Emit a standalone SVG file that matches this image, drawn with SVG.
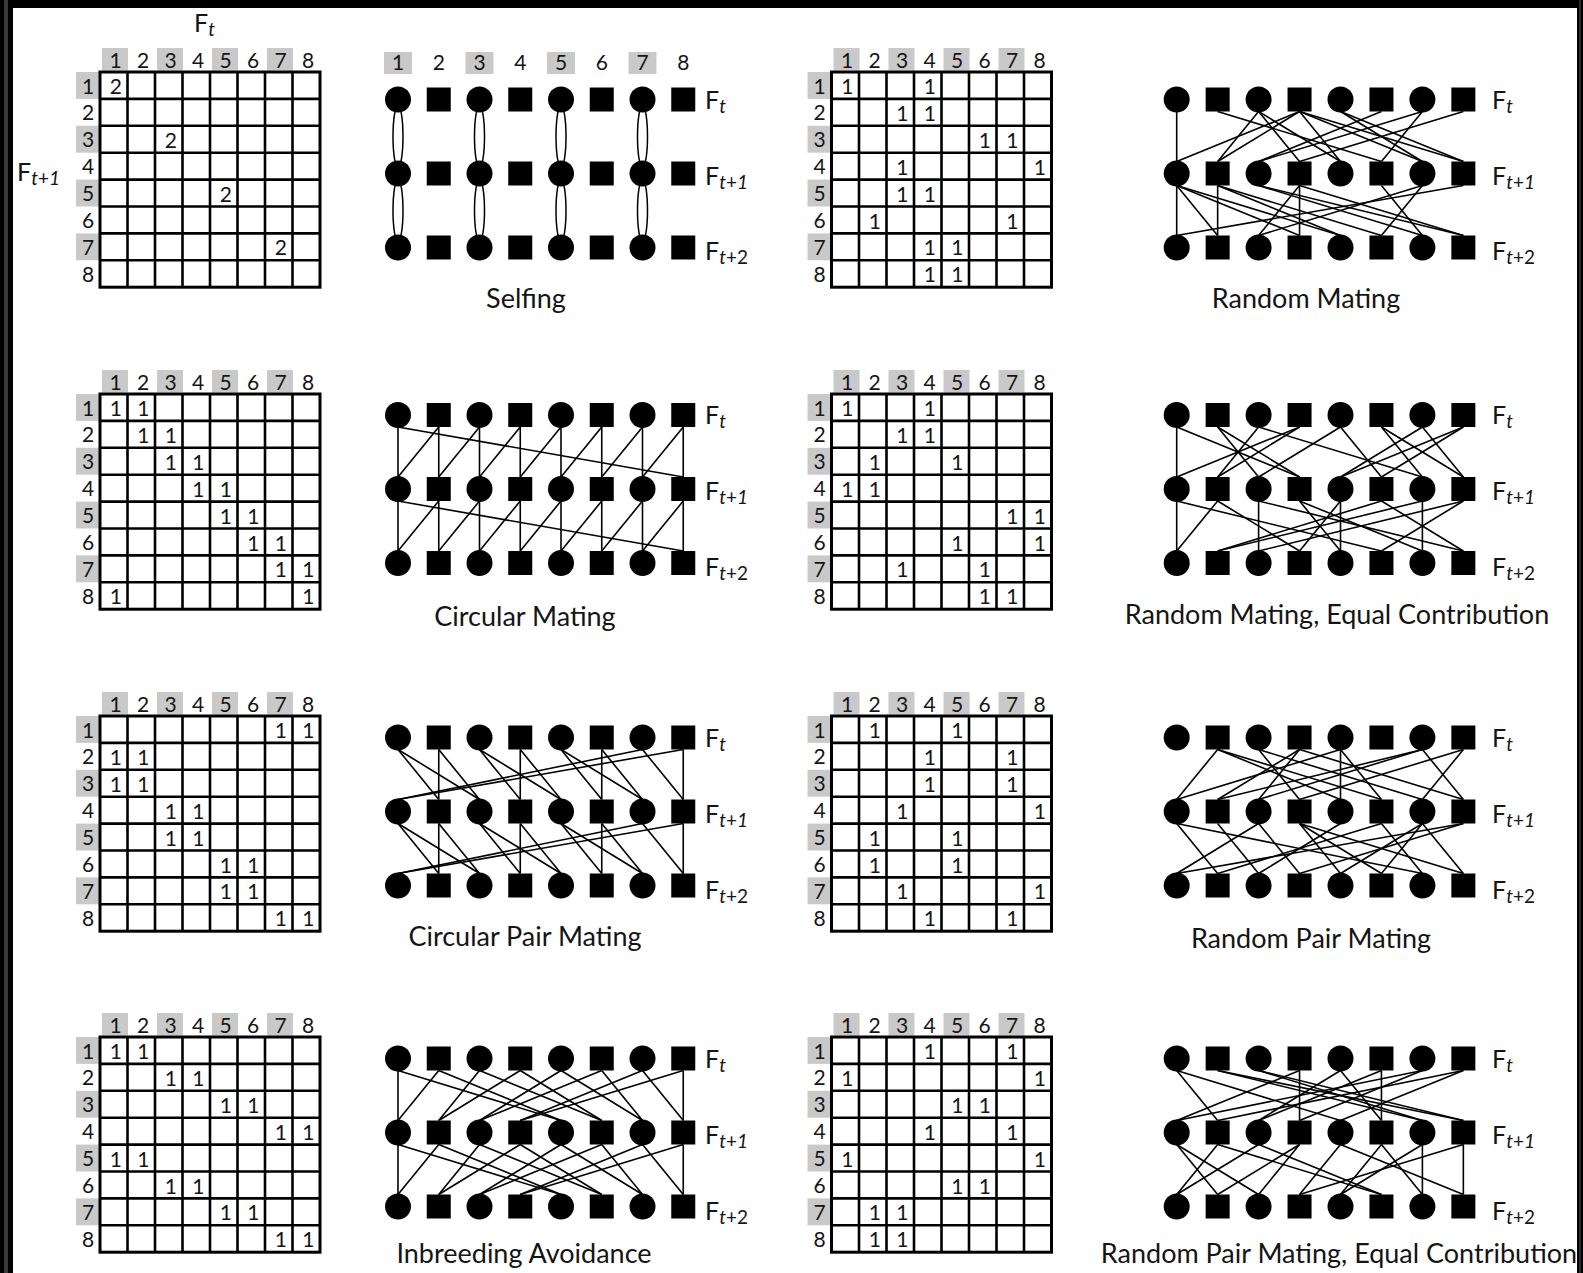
<svg xmlns="http://www.w3.org/2000/svg" xmlns:xlink="http://www.w3.org/1999/xlink" width="1583" height="1273" viewBox="0 0 1583 1273">
<style>
text{font-family:Lato,"Open Sans","Liberation Sans",sans-serif;fill:#151515}
.hd text{font-size:21px;text-anchor:middle}
.v text{font-size:21px;text-anchor:middle}
.ttl{font-size:27px;text-anchor:middle}
.lb{font-size:25px}
.sub{font-size:19px}
.it{font-style:italic}
.gb{fill:#c9c9c9}
.e line{stroke:#000;stroke-width:1.6}
.e ellipse{fill:none;stroke:#000;stroke-width:1.5}
circle{fill:#000}
.nd rect{fill:#000}
</style>
<defs>
<g id="mgrid">
<rect x="0" y="0" width="220" height="215.2" fill="#fff" stroke="#000" stroke-width="3"/>
<path d="M27.5 0V215.2M55 0V215.2M82.5 0V215.2M110 0V215.2M137.5 0V215.2M165 0V215.2M192.5 0V215.2M0 26.9H220M0 53.8H220M0 80.7H220M0 107.6H220M0 134.5H220M0 161.4H220M0 188.3H220" stroke="#000" stroke-width="2.6" fill="none"/>
</g>
<g id="mhead" class="hd">
<rect class="gb" x="2" y="-24" width="26" height="22.5"/><rect class="gb" x="57" y="-24" width="26" height="22.5"/><rect class="gb" x="112" y="-24" width="26" height="22.5"/><rect class="gb" x="167" y="-24" width="26" height="22.5"/>
<rect class="gb" x="-24" y="0" width="24" height="26.9"/><rect class="gb" x="-24" y="53.8" width="24" height="26.9"/><rect class="gb" x="-24" y="107.6" width="24" height="26.9"/><rect class="gb" x="-24" y="161.4" width="24" height="26.9"/>
<text x="15.5" y="-4.5">1</text><text x="43" y="-4.5">2</text><text x="70.5" y="-4.5">3</text><text x="98" y="-4.5">4</text><text x="125.5" y="-4.5">5</text><text x="153" y="-4.5">6</text><text x="180.5" y="-4.5">7</text><text x="208" y="-4.5">8</text>
<text x="-12" y="21.5">1</text><text x="-12" y="48.4">2</text><text x="-12" y="75.3">3</text><text x="-12" y="102.2">4</text><text x="-12" y="129.1">5</text><text x="-12" y="156">6</text><text x="-12" y="182.9">7</text><text x="-12" y="209.8">8</text>
</g>
</defs>
<rect width="1583" height="1273" fill="#000"/>
<rect x="4" y="0" width="4" height="1273" fill="#3a3a3a"/>
<rect x="1579" y="0" width="2" height="1273" fill="#2a2a2a"/>
<rect x="13" y="8" width="1564" height="1265" fill="#fff"/>

<text class="lb" x="194" y="32">F<tspan class="sub it" dy="4">t</tspan></text>
<text class="lb" x="17" y="181">F<tspan class="sub" dy="4"><tspan class="it">t</tspan>+<tspan class="it">1</tspan></tspan></text>

<!-- Row 1 matrices -->
<g id="m-selfing" transform="translate(100,72)"><use xlink:href="#mhead" href="#mhead"/><use xlink:href="#mgrid" href="#mgrid"/>
<g class="v" transform="translate(0,1.5)"><text x="15.75" y="20.5">2</text><text x="70.75" y="74.3">2</text><text x="125.75" y="128.1">2</text><text x="180.75" y="181.9">2</text></g></g>
<g id="m-random" transform="translate(831.5,72)"><use xlink:href="#mhead" href="#mhead"/><use xlink:href="#mgrid" href="#mgrid"/>
<g class="v" transform="translate(0,1.5)"><text x="15.75" y="20.5">1</text><text x="98.25" y="20.5">1</text><text x="70.75" y="47.4">1</text><text x="98.25" y="47.4">1</text><text x="153.25" y="74.3">1</text><text x="180.75" y="74.3">1</text><text x="70.75" y="101.2">1</text><text x="208.25" y="101.2">1</text><text x="70.75" y="128.1">1</text><text x="98.25" y="128.1">1</text><text x="43.25" y="155">1</text><text x="180.75" y="155">1</text><text x="98.25" y="181.9">1</text><text x="125.75" y="181.9">1</text><text x="98.25" y="208.8">1</text><text x="125.75" y="208.8">1</text></g></g>

<!-- Row 2 matrices -->
<g id="m-circular" transform="translate(100,394)"><use xlink:href="#mhead" href="#mhead"/><use xlink:href="#mgrid" href="#mgrid"/>
<g class="v" transform="translate(0,1.5)"><text x="15.75" y="20.5">1</text><text x="43.25" y="20.5">1</text><text x="43.25" y="47.4">1</text><text x="70.75" y="47.4">1</text><text x="70.75" y="74.3">1</text><text x="98.25" y="74.3">1</text><text x="98.25" y="101.2">1</text><text x="125.75" y="101.2">1</text><text x="125.75" y="128.1">1</text><text x="153.25" y="128.1">1</text><text x="153.25" y="155">1</text><text x="180.75" y="155">1</text><text x="180.75" y="181.9">1</text><text x="208.25" y="181.9">1</text><text x="15.75" y="208.8">1</text><text x="208.25" y="208.8">1</text></g></g>
<g id="m-random-eq" transform="translate(831.5,394)"><use xlink:href="#mhead" href="#mhead"/><use xlink:href="#mgrid" href="#mgrid"/>
<g class="v" transform="translate(0,1.5)"><text x="15.75" y="20.5">1</text><text x="98.25" y="20.5">1</text><text x="70.75" y="47.4">1</text><text x="98.25" y="47.4">1</text><text x="43.25" y="74.3">1</text><text x="125.75" y="74.3">1</text><text x="15.75" y="101.2">1</text><text x="43.25" y="101.2">1</text><text x="180.75" y="128.1">1</text><text x="208.25" y="128.1">1</text><text x="125.75" y="155">1</text><text x="208.25" y="155">1</text><text x="70.75" y="181.9">1</text><text x="153.25" y="181.9">1</text><text x="153.25" y="208.8">1</text><text x="180.75" y="208.8">1</text></g></g>

<!-- Row 3 matrices -->
<g id="m-circpair" transform="translate(100,716)"><use xlink:href="#mhead" href="#mhead"/><use xlink:href="#mgrid" href="#mgrid"/>
<g class="v" transform="translate(0,1.5)"><text x="180.75" y="20.5">1</text><text x="208.25" y="20.5">1</text><text x="15.75" y="47.4">1</text><text x="43.25" y="47.4">1</text><text x="15.75" y="74.3">1</text><text x="43.25" y="74.3">1</text><text x="70.75" y="101.2">1</text><text x="98.25" y="101.2">1</text><text x="70.75" y="128.1">1</text><text x="98.25" y="128.1">1</text><text x="125.75" y="155">1</text><text x="153.25" y="155">1</text><text x="125.75" y="181.9">1</text><text x="153.25" y="181.9">1</text><text x="180.75" y="208.8">1</text><text x="208.25" y="208.8">1</text></g></g>
<g id="m-randpair" transform="translate(831.5,716)"><use xlink:href="#mhead" href="#mhead"/><use xlink:href="#mgrid" href="#mgrid"/>
<g class="v" transform="translate(0,1.5)"><text x="43.25" y="20.5">1</text><text x="125.75" y="20.5">1</text><text x="98.25" y="47.4">1</text><text x="180.75" y="47.4">1</text><text x="98.25" y="74.3">1</text><text x="180.75" y="74.3">1</text><text x="70.75" y="101.2">1</text><text x="208.25" y="101.2">1</text><text x="43.25" y="128.1">1</text><text x="125.75" y="128.1">1</text><text x="43.25" y="155">1</text><text x="125.75" y="155">1</text><text x="70.75" y="181.9">1</text><text x="208.25" y="181.9">1</text><text x="98.25" y="208.8">1</text><text x="180.75" y="208.8">1</text></g></g>

<!-- Row 4 matrices -->
<g id="m-inbreed" transform="translate(100,1037)"><use xlink:href="#mhead" href="#mhead"/><use xlink:href="#mgrid" href="#mgrid"/>
<g class="v" transform="translate(0,1.5)"><text x="15.75" y="20.5">1</text><text x="43.25" y="20.5">1</text><text x="70.75" y="47.4">1</text><text x="98.25" y="47.4">1</text><text x="125.75" y="74.3">1</text><text x="153.25" y="74.3">1</text><text x="180.75" y="101.2">1</text><text x="208.25" y="101.2">1</text><text x="15.75" y="128.1">1</text><text x="43.25" y="128.1">1</text><text x="70.75" y="155">1</text><text x="98.25" y="155">1</text><text x="125.75" y="181.9">1</text><text x="153.25" y="181.9">1</text><text x="180.75" y="208.8">1</text><text x="208.25" y="208.8">1</text></g></g>
<g id="m-randpair-eq" transform="translate(831.5,1037)"><use xlink:href="#mhead" href="#mhead"/><use xlink:href="#mgrid" href="#mgrid"/>
<g class="v" transform="translate(0,1.5)"><text x="98.25" y="20.5">1</text><text x="180.75" y="20.5">1</text><text x="15.75" y="47.4">1</text><text x="208.25" y="47.4">1</text><text x="125.75" y="74.3">1</text><text x="153.25" y="74.3">1</text><text x="98.25" y="101.2">1</text><text x="180.75" y="101.2">1</text><text x="15.75" y="128.1">1</text><text x="208.25" y="128.1">1</text><text x="125.75" y="155">1</text><text x="153.25" y="155">1</text><text x="43.25" y="181.9">1</text><text x="70.75" y="181.9">1</text><text x="43.25" y="208.8">1</text><text x="70.75" y="208.8">1</text></g></g>

<!-- Selfing graph header -->
<g class="hd">
<rect class="gb" x="384" y="52" width="28" height="22"/><rect class="gb" x="465.5" y="52" width="28" height="22"/><rect class="gb" x="547" y="52" width="28" height="22"/><rect class="gb" x="628.5" y="52" width="28" height="22"/>
<text x="398" y="69.5">1</text><text x="438.75" y="69.5">2</text><text x="479.5" y="69.5">3</text><text x="520.25" y="69.5">4</text><text x="561" y="69.5">5</text><text x="601.75" y="69.5">6</text><text x="642.5" y="69.5">7</text><text x="683.25" y="69.5">8</text>
</g>

<!-- ===== Row 1 graphs ===== -->
<g id="g-selfing" transform="translate(398,99.5)">
<g id="selfing-connectors" class="e">
<ellipse cx="0" cy="37" rx="5" ry="31"/><ellipse cx="81.5" cy="37" rx="5" ry="31"/><ellipse cx="163" cy="37" rx="5" ry="31"/><ellipse cx="244.5" cy="37" rx="5" ry="31"/>
<ellipse cx="0" cy="111" rx="5" ry="31"/><ellipse cx="81.5" cy="111" rx="5" ry="31"/><ellipse cx="163" cy="111" rx="5" ry="31"/><ellipse cx="244.5" cy="111" rx="5" ry="31"/>
</g>
<g class="nd">
<g id="sf-a1"><circle cx="0" cy="0" r="13"/></g><g id="sf-a2"><rect x="28.75" y="-12" width="24" height="24"/></g><g id="sf-a3"><circle cx="81.5" cy="0" r="13"/></g><g id="sf-a4"><rect x="110.25" y="-12" width="24" height="24"/></g><g id="sf-a5"><circle cx="163" cy="0" r="13"/></g><g id="sf-a6"><rect x="191.75" y="-12" width="24" height="24"/></g><g id="sf-a7"><circle cx="244.5" cy="0" r="13"/></g><g id="sf-a8"><rect x="273.25" y="-12" width="24" height="24"/></g>
<g id="sf-b1"><circle cx="0" cy="74" r="13"/></g><g id="sf-b2"><rect x="28.75" y="62" width="24" height="24"/></g><g id="sf-b3"><circle cx="81.5" cy="74" r="13"/></g><g id="sf-b4"><rect x="110.25" y="62" width="24" height="24"/></g><g id="sf-b5"><circle cx="163" cy="74" r="13"/></g><g id="sf-b6"><rect x="191.75" y="62" width="24" height="24"/></g><g id="sf-b7"><circle cx="244.5" cy="74" r="13"/></g><g id="sf-b8"><rect x="273.25" y="62" width="24" height="24"/></g>
<g id="sf-c1"><circle cx="0" cy="148" r="13"/></g><g id="sf-c2"><rect x="28.75" y="136" width="24" height="24"/></g><g id="sf-c3"><circle cx="81.5" cy="148" r="13"/></g><g id="sf-c4"><rect x="110.25" y="136" width="24" height="24"/></g><g id="sf-c5"><circle cx="163" cy="148" r="13"/></g><g id="sf-c6"><rect x="191.75" y="136" width="24" height="24"/></g><g id="sf-c7"><circle cx="244.5" cy="148" r="13"/></g><g id="sf-c8"><rect x="273.25" y="136" width="24" height="24"/></g>
</g>
</g>
<text class="lb" x="705" y="108.5">F<tspan class="sub it" dy="4">t</tspan></text>
<text class="lb" x="705" y="184.5">F<tspan class="sub" dy="4"><tspan class="it">t</tspan>+<tspan class="it">1</tspan></tspan></text>
<text class="lb" x="705" y="260">F<tspan class="sub" dy="4"><tspan class="it">t</tspan>+2</tspan></text>
<text class="ttl" x="526" y="308">Selfing</text>

<g id="g-random" transform="translate(1176.7,99.5)">
<g id="random-connectors" class="e">
<line x1="0" y1="12" x2="0" y2="62"/><line x1="122.85" y1="12" x2="0" y2="62"/>
<line x1="81.9" y1="12" x2="40.95" y2="62"/><line x1="122.85" y1="12" x2="40.95" y2="62"/>
<line x1="204.75" y1="12" x2="81.9" y2="62"/><line x1="245.7" y1="12" x2="81.9" y2="62"/>
<line x1="81.9" y1="12" x2="122.85" y2="62"/><line x1="286.65" y1="12" x2="122.85" y2="62"/>
<line x1="81.9" y1="12" x2="163.8" y2="62"/><line x1="122.85" y1="12" x2="163.8" y2="62"/>
<line x1="40.95" y1="12" x2="204.75" y2="62"/><line x1="245.7" y1="12" x2="204.75" y2="62"/>
<line x1="122.85" y1="12" x2="245.7" y2="62"/><line x1="163.8" y1="12" x2="245.7" y2="62"/>
<line x1="122.85" y1="12" x2="286.65" y2="62"/><line x1="163.8" y1="12" x2="286.65" y2="62"/>
<line x1="0" y1="86" x2="0" y2="136"/><line x1="286.65" y1="86" x2="0" y2="136"/>
<line x1="40.95" y1="86" x2="40.95" y2="136"/><line x1="0" y1="86" x2="40.95" y2="136"/>
<line x1="122.85" y1="86" x2="81.9" y2="136"/><line x1="245.7" y1="86" x2="81.9" y2="136"/>
<line x1="122.85" y1="86" x2="122.85" y2="136"/><line x1="0" y1="86" x2="122.85" y2="136"/>
<line x1="0" y1="86" x2="163.8" y2="136"/><line x1="40.95" y1="86" x2="163.8" y2="136"/>
<line x1="245.7" y1="86" x2="204.75" y2="136"/><line x1="40.95" y1="86" x2="204.75" y2="136"/>
<line x1="204.75" y1="86" x2="245.7" y2="136"/><line x1="81.9" y1="86" x2="245.7" y2="136"/>
<line x1="81.9" y1="86" x2="286.65" y2="136"/><line x1="122.85" y1="86" x2="286.65" y2="136"/>
</g>
<g class="nd">
<g id="rm-a1"><circle cx="0" cy="0" r="13"/></g><g id="rm-a2"><rect x="28.95" y="-12" width="24" height="24"/></g><g id="rm-a3"><circle cx="81.9" cy="0" r="13"/></g><g id="rm-a4"><rect x="110.85" y="-12" width="24" height="24"/></g><g id="rm-a5"><circle cx="163.8" cy="0" r="13"/></g><g id="rm-a6"><rect x="192.75" y="-12" width="24" height="24"/></g><g id="rm-a7"><circle cx="245.7" cy="0" r="13"/></g><g id="rm-a8"><rect x="274.65" y="-12" width="24" height="24"/></g>
<g id="rm-b1"><circle cx="0" cy="74" r="13"/></g><g id="rm-b2"><rect x="28.95" y="62" width="24" height="24"/></g><g id="rm-b3"><circle cx="81.9" cy="74" r="13"/></g><g id="rm-b4"><rect x="110.85" y="62" width="24" height="24"/></g><g id="rm-b5"><circle cx="163.8" cy="74" r="13"/></g><g id="rm-b6"><rect x="192.75" y="62" width="24" height="24"/></g><g id="rm-b7"><circle cx="245.7" cy="74" r="13"/></g><g id="rm-b8"><rect x="274.65" y="62" width="24" height="24"/></g>
<g id="rm-c1"><circle cx="0" cy="148" r="13"/></g><g id="rm-c2"><rect x="28.95" y="136" width="24" height="24"/></g><g id="rm-c3"><circle cx="81.9" cy="148" r="13"/></g><g id="rm-c4"><rect x="110.85" y="136" width="24" height="24"/></g><g id="rm-c5"><circle cx="163.8" cy="148" r="13"/></g><g id="rm-c6"><rect x="192.75" y="136" width="24" height="24"/></g><g id="rm-c7"><circle cx="245.7" cy="148" r="13"/></g><g id="rm-c8"><rect x="274.65" y="136" width="24" height="24"/></g>
</g>
</g>
<text class="lb" x="1492" y="108.5">F<tspan class="sub it" dy="4">t</tspan></text>
<text class="lb" x="1492" y="184.5">F<tspan class="sub" dy="4"><tspan class="it">t</tspan>+<tspan class="it">1</tspan></tspan></text>
<text class="lb" x="1492" y="260">F<tspan class="sub" dy="4"><tspan class="it">t</tspan>+2</tspan></text>
<text class="ttl" x="1306" y="308">Random Mating</text>

<!-- ===== Row 2 graphs ===== -->
<g id="g-circular" transform="translate(398,415)">
<g id="circular-connectors" class="e">
<line x1="0" y1="12" x2="0" y2="62"/><line x1="40.75" y1="12" x2="40.75" y2="62"/><line x1="81.5" y1="12" x2="81.5" y2="62"/><line x1="122.25" y1="12" x2="122.25" y2="62"/><line x1="163" y1="12" x2="163" y2="62"/><line x1="203.75" y1="12" x2="203.75" y2="62"/><line x1="244.5" y1="12" x2="244.5" y2="62"/><line x1="285.25" y1="12" x2="285.25" y2="62"/>
<line x1="40.75" y1="12" x2="0" y2="62"/><line x1="81.5" y1="12" x2="40.75" y2="62"/><line x1="122.25" y1="12" x2="81.5" y2="62"/><line x1="163" y1="12" x2="122.25" y2="62"/><line x1="203.75" y1="12" x2="163" y2="62"/><line x1="244.5" y1="12" x2="203.75" y2="62"/><line x1="285.25" y1="12" x2="244.5" y2="62"/><line x1="0" y1="12" x2="285.25" y2="62"/>
<line x1="0" y1="86" x2="0" y2="136"/><line x1="40.75" y1="86" x2="40.75" y2="136"/><line x1="81.5" y1="86" x2="81.5" y2="136"/><line x1="122.25" y1="86" x2="122.25" y2="136"/><line x1="163" y1="86" x2="163" y2="136"/><line x1="203.75" y1="86" x2="203.75" y2="136"/><line x1="244.5" y1="86" x2="244.5" y2="136"/><line x1="285.25" y1="86" x2="285.25" y2="136"/>
<line x1="40.75" y1="86" x2="0" y2="136"/><line x1="81.5" y1="86" x2="40.75" y2="136"/><line x1="122.25" y1="86" x2="81.5" y2="136"/><line x1="163" y1="86" x2="122.25" y2="136"/><line x1="203.75" y1="86" x2="163" y2="136"/><line x1="244.5" y1="86" x2="203.75" y2="136"/><line x1="285.25" y1="86" x2="244.5" y2="136"/><line x1="0" y1="86" x2="285.25" y2="136"/>
</g>
<g class="nd">
<g id="cm-a1"><circle cx="0" cy="0" r="13"/></g><g id="cm-a2"><rect x="28.75" y="-12" width="24" height="24"/></g><g id="cm-a3"><circle cx="81.5" cy="0" r="13"/></g><g id="cm-a4"><rect x="110.25" y="-12" width="24" height="24"/></g><g id="cm-a5"><circle cx="163" cy="0" r="13"/></g><g id="cm-a6"><rect x="191.75" y="-12" width="24" height="24"/></g><g id="cm-a7"><circle cx="244.5" cy="0" r="13"/></g><g id="cm-a8"><rect x="273.25" y="-12" width="24" height="24"/></g>
<g id="cm-b1"><circle cx="0" cy="74" r="13"/></g><g id="cm-b2"><rect x="28.75" y="62" width="24" height="24"/></g><g id="cm-b3"><circle cx="81.5" cy="74" r="13"/></g><g id="cm-b4"><rect x="110.25" y="62" width="24" height="24"/></g><g id="cm-b5"><circle cx="163" cy="74" r="13"/></g><g id="cm-b6"><rect x="191.75" y="62" width="24" height="24"/></g><g id="cm-b7"><circle cx="244.5" cy="74" r="13"/></g><g id="cm-b8"><rect x="273.25" y="62" width="24" height="24"/></g>
<g id="cm-c1"><circle cx="0" cy="148" r="13"/></g><g id="cm-c2"><rect x="28.75" y="136" width="24" height="24"/></g><g id="cm-c3"><circle cx="81.5" cy="148" r="13"/></g><g id="cm-c4"><rect x="110.25" y="136" width="24" height="24"/></g><g id="cm-c5"><circle cx="163" cy="148" r="13"/></g><g id="cm-c6"><rect x="191.75" y="136" width="24" height="24"/></g><g id="cm-c7"><circle cx="244.5" cy="148" r="13"/></g><g id="cm-c8"><rect x="273.25" y="136" width="24" height="24"/></g>
</g>
</g>
<text class="lb" x="705" y="424">F<tspan class="sub it" dy="4">t</tspan></text>
<text class="lb" x="705" y="500">F<tspan class="sub" dy="4"><tspan class="it">t</tspan>+<tspan class="it">1</tspan></tspan></text>
<text class="lb" x="705" y="576">F<tspan class="sub" dy="4"><tspan class="it">t</tspan>+2</tspan></text>
<text class="ttl" x="525" y="626">Circular Mating</text>

<g id="g-random-eq" transform="translate(1176.7,415)">
<g id="random-eq-connectors" class="e">
<line x1="0" y1="12" x2="0" y2="62"/><line x1="122.85" y1="12" x2="0" y2="62"/>
<line x1="81.9" y1="12" x2="40.95" y2="62"/><line x1="122.85" y1="12" x2="40.95" y2="62"/>
<line x1="40.95" y1="12" x2="81.9" y2="62"/><line x1="163.8" y1="12" x2="81.9" y2="62"/>
<line x1="0" y1="12" x2="122.85" y2="62"/><line x1="40.95" y1="12" x2="122.85" y2="62"/>
<line x1="245.7" y1="12" x2="163.8" y2="62"/><line x1="286.65" y1="12" x2="163.8" y2="62"/>
<line x1="163.8" y1="12" x2="204.75" y2="62"/><line x1="286.65" y1="12" x2="204.75" y2="62"/>
<line x1="81.9" y1="12" x2="245.7" y2="62"/><line x1="204.75" y1="12" x2="245.7" y2="62"/>
<line x1="204.75" y1="12" x2="286.65" y2="62"/><line x1="245.7" y1="12" x2="286.65" y2="62"/>
<line x1="0" y1="86" x2="0" y2="136"/><line x1="40.95" y1="86" x2="0" y2="136"/>
<line x1="245.7" y1="86" x2="40.95" y2="136"/><line x1="204.75" y1="86" x2="40.95" y2="136"/>
<line x1="81.9" y1="86" x2="81.9" y2="136"/><line x1="286.65" y1="86" x2="81.9" y2="136"/>
<line x1="163.8" y1="86" x2="122.85" y2="136"/><line x1="40.95" y1="86" x2="122.85" y2="136"/>
<line x1="163.8" y1="86" x2="163.8" y2="136"/><line x1="122.85" y1="86" x2="163.8" y2="136"/>
<line x1="0" y1="86" x2="204.75" y2="136"/><line x1="286.65" y1="86" x2="204.75" y2="136"/>
<line x1="245.7" y1="86" x2="245.7" y2="136"/><line x1="122.85" y1="86" x2="245.7" y2="136"/>
<line x1="81.9" y1="86" x2="286.65" y2="136"/><line x1="204.75" y1="86" x2="286.65" y2="136"/>
</g>
<g class="nd">
<g id="re-a1"><circle cx="0" cy="0" r="13"/></g><g id="re-a2"><rect x="28.95" y="-12" width="24" height="24"/></g><g id="re-a3"><circle cx="81.9" cy="0" r="13"/></g><g id="re-a4"><rect x="110.85" y="-12" width="24" height="24"/></g><g id="re-a5"><circle cx="163.8" cy="0" r="13"/></g><g id="re-a6"><rect x="192.75" y="-12" width="24" height="24"/></g><g id="re-a7"><circle cx="245.7" cy="0" r="13"/></g><g id="re-a8"><rect x="274.65" y="-12" width="24" height="24"/></g>
<g id="re-b1"><circle cx="0" cy="74" r="13"/></g><g id="re-b2"><rect x="28.95" y="62" width="24" height="24"/></g><g id="re-b3"><circle cx="81.9" cy="74" r="13"/></g><g id="re-b4"><rect x="110.85" y="62" width="24" height="24"/></g><g id="re-b5"><circle cx="163.8" cy="74" r="13"/></g><g id="re-b6"><rect x="192.75" y="62" width="24" height="24"/></g><g id="re-b7"><circle cx="245.7" cy="74" r="13"/></g><g id="re-b8"><rect x="274.65" y="62" width="24" height="24"/></g>
<g id="re-c1"><circle cx="0" cy="148" r="13"/></g><g id="re-c2"><rect x="28.95" y="136" width="24" height="24"/></g><g id="re-c3"><circle cx="81.9" cy="148" r="13"/></g><g id="re-c4"><rect x="110.85" y="136" width="24" height="24"/></g><g id="re-c5"><circle cx="163.8" cy="148" r="13"/></g><g id="re-c6"><rect x="192.75" y="136" width="24" height="24"/></g><g id="re-c7"><circle cx="245.7" cy="148" r="13"/></g><g id="re-c8"><rect x="274.65" y="136" width="24" height="24"/></g>
</g>
</g>
<text class="lb" x="1492" y="424">F<tspan class="sub it" dy="4">t</tspan></text>
<text class="lb" x="1492" y="500">F<tspan class="sub" dy="4"><tspan class="it">t</tspan>+<tspan class="it">1</tspan></tspan></text>
<text class="lb" x="1492" y="576">F<tspan class="sub" dy="4"><tspan class="it">t</tspan>+2</tspan></text>
<text class="ttl" x="1337" y="624">Random Mating, Equal Contribution</text>

<!-- ===== Row 3 graphs ===== -->
<g id="g-circpair" transform="translate(398,737.5)">
<g id="circpair-connectors" class="e">
<line x1="244.5" y1="12" x2="0" y2="62"/><line x1="285.25" y1="12" x2="0" y2="62"/>
<line x1="0" y1="12" x2="40.75" y2="62"/><line x1="40.75" y1="12" x2="40.75" y2="62"/>
<line x1="0" y1="12" x2="81.5" y2="62"/><line x1="40.75" y1="12" x2="81.5" y2="62"/>
<line x1="81.5" y1="12" x2="122.25" y2="62"/><line x1="122.25" y1="12" x2="122.25" y2="62"/>
<line x1="81.5" y1="12" x2="163" y2="62"/><line x1="122.25" y1="12" x2="163" y2="62"/>
<line x1="163" y1="12" x2="203.75" y2="62"/><line x1="203.75" y1="12" x2="203.75" y2="62"/>
<line x1="163" y1="12" x2="244.5" y2="62"/><line x1="203.75" y1="12" x2="244.5" y2="62"/>
<line x1="244.5" y1="12" x2="285.25" y2="62"/><line x1="285.25" y1="12" x2="285.25" y2="62"/>
<line x1="244.5" y1="86" x2="0" y2="136"/><line x1="285.25" y1="86" x2="0" y2="136"/>
<line x1="0" y1="86" x2="40.75" y2="136"/><line x1="40.75" y1="86" x2="40.75" y2="136"/>
<line x1="0" y1="86" x2="81.5" y2="136"/><line x1="40.75" y1="86" x2="81.5" y2="136"/>
<line x1="81.5" y1="86" x2="122.25" y2="136"/><line x1="122.25" y1="86" x2="122.25" y2="136"/>
<line x1="81.5" y1="86" x2="163" y2="136"/><line x1="122.25" y1="86" x2="163" y2="136"/>
<line x1="163" y1="86" x2="203.75" y2="136"/><line x1="203.75" y1="86" x2="203.75" y2="136"/>
<line x1="163" y1="86" x2="244.5" y2="136"/><line x1="203.75" y1="86" x2="244.5" y2="136"/>
<line x1="244.5" y1="86" x2="285.25" y2="136"/><line x1="285.25" y1="86" x2="285.25" y2="136"/>
</g>
<g class="nd">
<g id="cp-a1"><circle cx="0" cy="0" r="13"/></g><g id="cp-a2"><rect x="28.75" y="-12" width="24" height="24"/></g><g id="cp-a3"><circle cx="81.5" cy="0" r="13"/></g><g id="cp-a4"><rect x="110.25" y="-12" width="24" height="24"/></g><g id="cp-a5"><circle cx="163" cy="0" r="13"/></g><g id="cp-a6"><rect x="191.75" y="-12" width="24" height="24"/></g><g id="cp-a7"><circle cx="244.5" cy="0" r="13"/></g><g id="cp-a8"><rect x="273.25" y="-12" width="24" height="24"/></g>
<g id="cp-b1"><circle cx="0" cy="74" r="13"/></g><g id="cp-b2"><rect x="28.75" y="62" width="24" height="24"/></g><g id="cp-b3"><circle cx="81.5" cy="74" r="13"/></g><g id="cp-b4"><rect x="110.25" y="62" width="24" height="24"/></g><g id="cp-b5"><circle cx="163" cy="74" r="13"/></g><g id="cp-b6"><rect x="191.75" y="62" width="24" height="24"/></g><g id="cp-b7"><circle cx="244.5" cy="74" r="13"/></g><g id="cp-b8"><rect x="273.25" y="62" width="24" height="24"/></g>
<g id="cp-c1"><circle cx="0" cy="148" r="13"/></g><g id="cp-c2"><rect x="28.75" y="136" width="24" height="24"/></g><g id="cp-c3"><circle cx="81.5" cy="148" r="13"/></g><g id="cp-c4"><rect x="110.25" y="136" width="24" height="24"/></g><g id="cp-c5"><circle cx="163" cy="148" r="13"/></g><g id="cp-c6"><rect x="191.75" y="136" width="24" height="24"/></g><g id="cp-c7"><circle cx="244.5" cy="148" r="13"/></g><g id="cp-c8"><rect x="273.25" y="136" width="24" height="24"/></g>
</g>
</g>
<text class="lb" x="705" y="746.5">F<tspan class="sub it" dy="4">t</tspan></text>
<text class="lb" x="705" y="822.5">F<tspan class="sub" dy="4"><tspan class="it">t</tspan>+<tspan class="it">1</tspan></tspan></text>
<text class="lb" x="705" y="898.5">F<tspan class="sub" dy="4"><tspan class="it">t</tspan>+2</tspan></text>
<text class="ttl" x="525" y="946">Circular Pair Mating</text>

<g id="g-randpair" transform="translate(1176.7,737.5)">
<g id="randpair-connectors" class="e">
<line x1="40.95" y1="12" x2="0" y2="62"/><line x1="163.8" y1="12" x2="0" y2="62"/>
<line x1="122.85" y1="12" x2="40.95" y2="62"/><line x1="245.7" y1="12" x2="40.95" y2="62"/>
<line x1="122.85" y1="12" x2="81.9" y2="62"/><line x1="245.7" y1="12" x2="81.9" y2="62"/>
<line x1="81.9" y1="12" x2="122.85" y2="62"/><line x1="286.65" y1="12" x2="122.85" y2="62"/>
<line x1="40.95" y1="12" x2="163.8" y2="62"/><line x1="163.8" y1="12" x2="163.8" y2="62"/>
<line x1="40.95" y1="12" x2="204.75" y2="62"/><line x1="163.8" y1="12" x2="204.75" y2="62"/>
<line x1="81.9" y1="12" x2="245.7" y2="62"/><line x1="286.65" y1="12" x2="245.7" y2="62"/>
<line x1="122.85" y1="12" x2="286.65" y2="62"/><line x1="245.7" y1="12" x2="286.65" y2="62"/>
<line x1="81.9" y1="86" x2="0" y2="136"/><line x1="286.65" y1="86" x2="0" y2="136"/>
<line x1="0" y1="86" x2="40.95" y2="136"/><line x1="204.75" y1="86" x2="40.95" y2="136"/>
<line x1="163.8" y1="86" x2="81.9" y2="136"/><line x1="40.95" y1="86" x2="81.9" y2="136"/>
<line x1="81.9" y1="86" x2="122.85" y2="136"/><line x1="286.65" y1="86" x2="122.85" y2="136"/>
<line x1="245.7" y1="86" x2="163.8" y2="136"/><line x1="122.85" y1="86" x2="163.8" y2="136"/>
<line x1="245.7" y1="86" x2="204.75" y2="136"/><line x1="122.85" y1="86" x2="204.75" y2="136"/>
<line x1="0" y1="86" x2="245.7" y2="136"/><line x1="204.75" y1="86" x2="245.7" y2="136"/>
<line x1="245.7" y1="86" x2="286.65" y2="136"/><line x1="122.85" y1="86" x2="286.65" y2="136"/>
</g>
<g class="nd">
<g id="rp-a1"><circle cx="0" cy="0" r="13"/></g><g id="rp-a2"><rect x="28.95" y="-12" width="24" height="24"/></g><g id="rp-a3"><circle cx="81.9" cy="0" r="13"/></g><g id="rp-a4"><rect x="110.85" y="-12" width="24" height="24"/></g><g id="rp-a5"><circle cx="163.8" cy="0" r="13"/></g><g id="rp-a6"><rect x="192.75" y="-12" width="24" height="24"/></g><g id="rp-a7"><circle cx="245.7" cy="0" r="13"/></g><g id="rp-a8"><rect x="274.65" y="-12" width="24" height="24"/></g>
<g id="rp-b1"><circle cx="0" cy="74" r="13"/></g><g id="rp-b2"><rect x="28.95" y="62" width="24" height="24"/></g><g id="rp-b3"><circle cx="81.9" cy="74" r="13"/></g><g id="rp-b4"><rect x="110.85" y="62" width="24" height="24"/></g><g id="rp-b5"><circle cx="163.8" cy="74" r="13"/></g><g id="rp-b6"><rect x="192.75" y="62" width="24" height="24"/></g><g id="rp-b7"><circle cx="245.7" cy="74" r="13"/></g><g id="rp-b8"><rect x="274.65" y="62" width="24" height="24"/></g>
<g id="rp-c1"><circle cx="0" cy="148" r="13"/></g><g id="rp-c2"><rect x="28.95" y="136" width="24" height="24"/></g><g id="rp-c3"><circle cx="81.9" cy="148" r="13"/></g><g id="rp-c4"><rect x="110.85" y="136" width="24" height="24"/></g><g id="rp-c5"><circle cx="163.8" cy="148" r="13"/></g><g id="rp-c6"><rect x="192.75" y="136" width="24" height="24"/></g><g id="rp-c7"><circle cx="245.7" cy="148" r="13"/></g><g id="rp-c8"><rect x="274.65" y="136" width="24" height="24"/></g>
</g>
</g>
<text class="lb" x="1492" y="746.5">F<tspan class="sub it" dy="4">t</tspan></text>
<text class="lb" x="1492" y="822.5">F<tspan class="sub" dy="4"><tspan class="it">t</tspan>+<tspan class="it">1</tspan></tspan></text>
<text class="lb" x="1492" y="898.5">F<tspan class="sub" dy="4"><tspan class="it">t</tspan>+2</tspan></text>
<text class="ttl" x="1311" y="948">Random Pair Mating</text>

<!-- ===== Row 4 graphs ===== -->
<g id="g-inbreed" transform="translate(398,1058.5)">
<g id="inbreed-connectors" class="e">
<line x1="0" y1="12" x2="0" y2="62"/><line x1="40.75" y1="12" x2="0" y2="62"/>
<line x1="81.5" y1="12" x2="40.75" y2="62"/><line x1="122.25" y1="12" x2="40.75" y2="62"/>
<line x1="163" y1="12" x2="81.5" y2="62"/><line x1="203.75" y1="12" x2="81.5" y2="62"/>
<line x1="244.5" y1="12" x2="122.25" y2="62"/><line x1="285.25" y1="12" x2="122.25" y2="62"/>
<line x1="0" y1="12" x2="163" y2="62"/><line x1="40.75" y1="12" x2="163" y2="62"/>
<line x1="81.5" y1="12" x2="203.75" y2="62"/><line x1="122.25" y1="12" x2="203.75" y2="62"/>
<line x1="163" y1="12" x2="244.5" y2="62"/><line x1="203.75" y1="12" x2="244.5" y2="62"/>
<line x1="244.5" y1="12" x2="285.25" y2="62"/><line x1="285.25" y1="12" x2="285.25" y2="62"/>
<line x1="0" y1="86" x2="0" y2="136"/><line x1="40.75" y1="86" x2="0" y2="136"/>
<line x1="81.5" y1="86" x2="40.75" y2="136"/><line x1="122.25" y1="86" x2="40.75" y2="136"/>
<line x1="163" y1="86" x2="81.5" y2="136"/><line x1="203.75" y1="86" x2="81.5" y2="136"/>
<line x1="244.5" y1="86" x2="122.25" y2="136"/><line x1="285.25" y1="86" x2="122.25" y2="136"/>
<line x1="0" y1="86" x2="163" y2="136"/><line x1="40.75" y1="86" x2="163" y2="136"/>
<line x1="81.5" y1="86" x2="203.75" y2="136"/><line x1="122.25" y1="86" x2="203.75" y2="136"/>
<line x1="163" y1="86" x2="244.5" y2="136"/><line x1="203.75" y1="86" x2="244.5" y2="136"/>
<line x1="244.5" y1="86" x2="285.25" y2="136"/><line x1="285.25" y1="86" x2="285.25" y2="136"/>
</g>
<g class="nd">
<g id="ia-a1"><circle cx="0" cy="0" r="13"/></g><g id="ia-a2"><rect x="28.75" y="-12" width="24" height="24"/></g><g id="ia-a3"><circle cx="81.5" cy="0" r="13"/></g><g id="ia-a4"><rect x="110.25" y="-12" width="24" height="24"/></g><g id="ia-a5"><circle cx="163" cy="0" r="13"/></g><g id="ia-a6"><rect x="191.75" y="-12" width="24" height="24"/></g><g id="ia-a7"><circle cx="244.5" cy="0" r="13"/></g><g id="ia-a8"><rect x="273.25" y="-12" width="24" height="24"/></g>
<g id="ia-b1"><circle cx="0" cy="74" r="13"/></g><g id="ia-b2"><rect x="28.75" y="62" width="24" height="24"/></g><g id="ia-b3"><circle cx="81.5" cy="74" r="13"/></g><g id="ia-b4"><rect x="110.25" y="62" width="24" height="24"/></g><g id="ia-b5"><circle cx="163" cy="74" r="13"/></g><g id="ia-b6"><rect x="191.75" y="62" width="24" height="24"/></g><g id="ia-b7"><circle cx="244.5" cy="74" r="13"/></g><g id="ia-b8"><rect x="273.25" y="62" width="24" height="24"/></g>
<g id="ia-c1"><circle cx="0" cy="148" r="13"/></g><g id="ia-c2"><rect x="28.75" y="136" width="24" height="24"/></g><g id="ia-c3"><circle cx="81.5" cy="148" r="13"/></g><g id="ia-c4"><rect x="110.25" y="136" width="24" height="24"/></g><g id="ia-c5"><circle cx="163" cy="148" r="13"/></g><g id="ia-c6"><rect x="191.75" y="136" width="24" height="24"/></g><g id="ia-c7"><circle cx="244.5" cy="148" r="13"/></g><g id="ia-c8"><rect x="273.25" y="136" width="24" height="24"/></g>
</g>
</g>
<text class="lb" x="705" y="1067.5">F<tspan class="sub it" dy="4">t</tspan></text>
<text class="lb" x="705" y="1143.5">F<tspan class="sub" dy="4"><tspan class="it">t</tspan>+<tspan class="it">1</tspan></tspan></text>
<text class="lb" x="705" y="1219.5">F<tspan class="sub" dy="4"><tspan class="it">t</tspan>+2</tspan></text>
<text class="ttl" x="524" y="1263">Inbreeding Avoidance</text>

<g id="g-randpair-eq" transform="translate(1176.7,1058.5)">
<g id="randpair-eq-connectors" class="e">
<line x1="122.85" y1="12" x2="0" y2="62"/><line x1="245.7" y1="12" x2="0" y2="62"/>
<line x1="0" y1="12" x2="40.95" y2="62"/><line x1="286.65" y1="12" x2="40.95" y2="62"/>
<line x1="163.8" y1="12" x2="81.9" y2="62"/><line x1="204.75" y1="12" x2="81.9" y2="62"/>
<line x1="122.85" y1="12" x2="122.85" y2="62"/><line x1="245.7" y1="12" x2="122.85" y2="62"/>
<line x1="0" y1="12" x2="163.8" y2="62"/><line x1="286.65" y1="12" x2="163.8" y2="62"/>
<line x1="163.8" y1="12" x2="204.75" y2="62"/><line x1="204.75" y1="12" x2="204.75" y2="62"/>
<line x1="40.95" y1="12" x2="245.7" y2="62"/><line x1="81.9" y1="12" x2="245.7" y2="62"/>
<line x1="40.95" y1="12" x2="286.65" y2="62"/><line x1="81.9" y1="12" x2="286.65" y2="62"/>
<line x1="40.95" y1="86" x2="0" y2="136"/><line x1="81.9" y1="86" x2="0" y2="136"/>
<line x1="0" y1="86" x2="40.95" y2="136"/><line x1="122.85" y1="86" x2="40.95" y2="136"/>
<line x1="0" y1="86" x2="81.9" y2="136"/><line x1="122.85" y1="86" x2="81.9" y2="136"/>
<line x1="163.8" y1="86" x2="122.85" y2="136"/><line x1="286.65" y1="86" x2="122.85" y2="136"/>
<line x1="204.75" y1="86" x2="163.8" y2="136"/><line x1="245.7" y1="86" x2="163.8" y2="136"/>
<line x1="40.95" y1="86" x2="204.75" y2="136"/><line x1="81.9" y1="86" x2="204.75" y2="136"/>
<line x1="204.75" y1="86" x2="245.7" y2="136"/><line x1="245.7" y1="86" x2="245.7" y2="136"/>
<line x1="163.8" y1="86" x2="286.65" y2="136"/><line x1="286.65" y1="86" x2="286.65" y2="136"/>
</g>
<g class="nd">
<g id="rq-a1"><circle cx="0" cy="0" r="13"/></g><g id="rq-a2"><rect x="28.95" y="-12" width="24" height="24"/></g><g id="rq-a3"><circle cx="81.9" cy="0" r="13"/></g><g id="rq-a4"><rect x="110.85" y="-12" width="24" height="24"/></g><g id="rq-a5"><circle cx="163.8" cy="0" r="13"/></g><g id="rq-a6"><rect x="192.75" y="-12" width="24" height="24"/></g><g id="rq-a7"><circle cx="245.7" cy="0" r="13"/></g><g id="rq-a8"><rect x="274.65" y="-12" width="24" height="24"/></g>
<g id="rq-b1"><circle cx="0" cy="74" r="13"/></g><g id="rq-b2"><rect x="28.95" y="62" width="24" height="24"/></g><g id="rq-b3"><circle cx="81.9" cy="74" r="13"/></g><g id="rq-b4"><rect x="110.85" y="62" width="24" height="24"/></g><g id="rq-b5"><circle cx="163.8" cy="74" r="13"/></g><g id="rq-b6"><rect x="192.75" y="62" width="24" height="24"/></g><g id="rq-b7"><circle cx="245.7" cy="74" r="13"/></g><g id="rq-b8"><rect x="274.65" y="62" width="24" height="24"/></g>
<g id="rq-c1"><circle cx="0" cy="148" r="13"/></g><g id="rq-c2"><rect x="28.95" y="136" width="24" height="24"/></g><g id="rq-c3"><circle cx="81.9" cy="148" r="13"/></g><g id="rq-c4"><rect x="110.85" y="136" width="24" height="24"/></g><g id="rq-c5"><circle cx="163.8" cy="148" r="13"/></g><g id="rq-c6"><rect x="192.75" y="136" width="24" height="24"/></g><g id="rq-c7"><circle cx="245.7" cy="148" r="13"/></g><g id="rq-c8"><rect x="274.65" y="136" width="24" height="24"/></g>
</g>
</g>
<text class="lb" x="1492" y="1067.5">F<tspan class="sub it" dy="4">t</tspan></text>
<text class="lb" x="1492" y="1143.5">F<tspan class="sub" dy="4"><tspan class="it">t</tspan>+<tspan class="it">1</tspan></tspan></text>
<text class="lb" x="1492" y="1219.5">F<tspan class="sub" dy="4"><tspan class="it">t</tspan>+2</tspan></text>
<text class="ttl" x="1339" y="1263">Random Pair Mating, Equal Contribution</text>
</svg>
